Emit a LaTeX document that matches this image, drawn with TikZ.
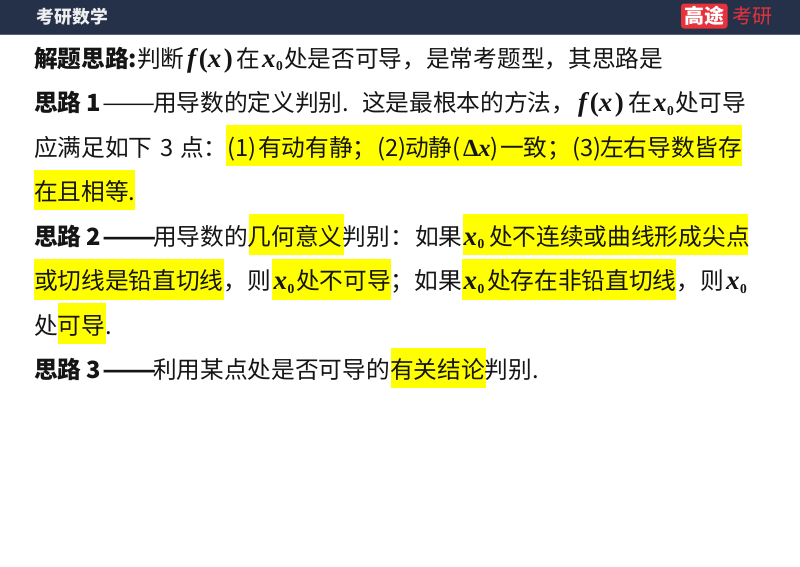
\documentclass[tikz,border=0pt]{standalone}
\usepackage{fontspec}
\setmainfont{Noto Sans CJK SC}
\newfontfamily\mathserif{Liberation Serif}
\definecolor{headbar}{HTML}{253149}
\definecolor{headline}{HTML}{5A6478}
\definecolor{logored}{HTML}{E6323C}
\definecolor{hl}{HTML}{FFFF00}
\definecolor{ink}{HTML}{151515}
\newcommand{\fxx}{{\mathserif\fontsize{27}{28}\selectfont\bfseries\itshape f\kern3pt\upshape(\itshape x\kern2.5pt\upshape)}}
\newcommand{\xzero}{{\mathserif\fontsize{27}{28}\selectfont\bfseries\itshape x\kern0.5pt\raisebox{-0.3ex}{\fontsize{13.5}{13.5}\selectfont\upshape 0}}}
\newcommand{\dx}{{\mathserif\fontsize{24.5}{28}\selectfont\bfseries\upshape Δ\itshape x}}
\newcommand{\longdash}{\scalebox{1.34}[1]{——}}
\tikzset{
  x=1pt,y=-1pt,
  txt/.style={anchor=base west,inner sep=0pt,outer sep=0pt,text=ink,font=\fontsize{23.7}{28}\selectfont},
  hlbox/.style={fill=hl,draw=none}
}
\begin{document}
\begin{tikzpicture}
\useasboundingbox (0,0) rectangle (800,566);
\fill[white] (0,0) rectangle (800,566);
% header
\fill[headbar] (0,0) rectangle (800,34);
\fill[headline] (0,34) rectangle (800,35);
\node[anchor=base west,inner sep=0pt,text=white!92!headbar,font=\fontsize{17.8}{20}\selectfont\bfseries] (title) at (36.5,23) {考研数学};
\fill[logored,rounded corners=3pt] (681,3.5) rectangle (727.5,28.5);
\node[anchor=base,inner sep=0pt,text=white,font=\fontsize{20}{22}\selectfont\bfseries] (logoA) at (704.8,23) {高途};
\node[anchor=base west,inner sep=0pt,text=logored,font=\fontsize{20}{22}\selectfont] (logoB) at (732,23) {考研};
% highlights
\fill[hlbox] (226,125) rectangle (742,165.5);
\fill[hlbox] (34,169.5) rectangle (135,210);
\fill[hlbox] (248.5,214) rectangle (343.5,255);
\fill[hlbox] (462.5,214) rectangle (747.5,255);
\fill[hlbox] (34,258.5) rectangle (224,299.5);
\fill[hlbox] (271.5,258.5) rectangle (390.5,299.5);
\fill[hlbox] (461.5,258.5) rectangle (675.5,299.5);
\fill[hlbox] (58,303) rectangle (105.5,343.5);
\fill[hlbox] (391,347.5) rectangle (486,388);
% line 1
\node[txt] (a1) at (34,67) {\textbf{解题思路:}判断};
\node[txt] (a2) at (187,67) {\fxx};
\node[txt] (a3) at (236,67) {在};
\node[txt] (a4) at (262,67) {\xzero};
\node[txt] (a5) at (284,67) {处是否可导，是常考题型，其思路是};
% line 2
\node[txt] (b1) at (34,111.5) {\textbf{思路 1}};
\node[txt] (b1d) at (102,111.5) {\longdash};
\node[txt] (b1e) at (153,111.5) {用导数的定义判别.};
\node[txt] (b2) at (362,111.5) {这是最根本的方法，};
\node[txt] (b3) at (578,111.5) {\fxx};
\node[txt] (b4) at (628,111.5) {在};
\node[txt] (b5) at (653,111.5) {\xzero};
\node[txt] (b6) at (675,111.5) {处可导};
% line 3
\node[txt] (c1) at (34,156) {应满足如下};
\node[txt] (c1a) at (160,156) {3};
\node[txt] (c1b) at (180,156) {点：};
\node[txt] (c2a) at (227,156) {(1)};
\node[txt] (c2b) at (258,156) {有动有静；};
\node[txt] (c2c) at (377,156) {(2)};
\node[txt] (c2d) at (405,156) {动静(};
\node[txt] (c3) at (463,156) {\dx};
\node[txt] (c4a) at (490,156) {)};
\node[txt] (c4b) at (500,156) {一致；};
\node[txt] (c4c) at (572,156) {(3)};
\node[txt] (c4d) at (600,156) {左右导数皆存};
% line 4
\node[txt] (d1) at (34,200.5) {在且相等.};
% line 5
\node[txt] (e1) at (34,245) {\textbf{思路 2}};
\node[txt] (e1d) at (102,245) {\textbf{\longdash}};
\node[txt] (e1e) at (153,245) {用导数的几何意义判别：};
\node[txt] (e2) at (415,245) {如果};
\node[txt] (e3) at (463.5,245) {\xzero};
\node[txt] (e4) at (489,245) {处不连续或曲线形成尖点};
% line 6
\node[txt] (f1) at (34,289.5) {或切线是铅直切线，则};
\node[txt] (f2) at (273.5,289.5) {\xzero};
\node[txt] (f3) at (296,289.5) {处不可导；如果};
\node[txt] (f4) at (463.5,289.5) {\xzero};
\node[txt] (f5) at (487,289.5) {处存在非铅直切线，则};
\node[txt] (f6) at (726,289.5) {\xzero};
% line 7
\node[txt] (g1) at (34,334) {处可导.};
% line 8
\node[txt] (h1) at (34,378.5) {\textbf{思路 3}};
\node[txt] (h1d) at (102,378.5) {\textbf{\longdash}};
\node[txt] (h1e) at (153,378.5) {利用某点处是否可导的有关结论判别.};
\end{tikzpicture}
\end{document}
